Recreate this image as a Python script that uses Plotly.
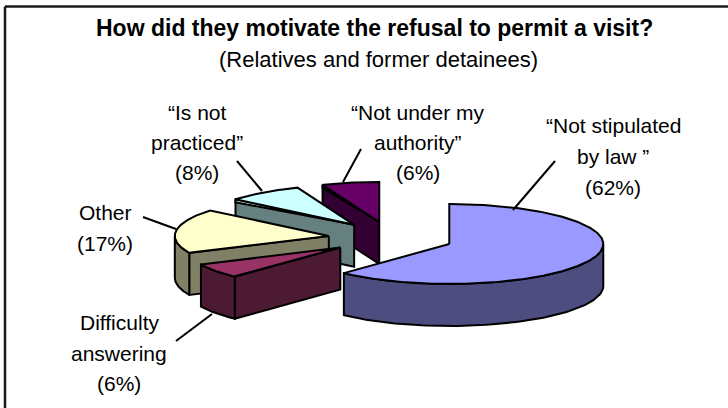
import math
import numpy as np
import plotly.graph_objects as go

# ---- data ----
categories = ["“Not stipulated<br>by law ”", "Difficulty<br>answering", "Other",
              "“Is not<br>practiced”", "“Not under my<br>authority”"]
shown_percent = [62, 6, 17, 8, 6]
slice_share = [62, 6, 18, 8, 6]   # proportions as drawn
top_colors = ["#9999FF", "#993366", "#FFFFCC", "#CCFFFF", "#660066"]
side_colors = ["#4D4D80", "#4D1A33", "#808066", "#668080", "#330033"]

title = "How did they motivate the refusal to permit a visit?"
subtitle = "(Relatives and former detainees)"

# ---- pie geometry (pixels) ----
CX, CY, RX, RY, DEPTH, EXPLODE = 391, 238, 154, 40, 42, 0.407
LIP = [0, 0, 0, 3, 3]
DRAW_ORDER = [4, 3, 2, 0, 1]
LABEL_CX = [613, 119, 105, 197, 418]
LABEL_Y = [[125, 156, 187], [322, 353, 383], [212, 243], [112, 142, 172], [112, 142, 172]]
LEADERS = [((555, 161), (513, 210)), ((176, 341), (212, 314)), ((143, 217), (176, 229)),
           ((237, 161), (262, 191)), ((361, 149), (343, 182))]
LINE = dict(color="black", width=2)
FONT = "Liberation Sans, Arial, sans-serif"

fig = go.Figure()


def poly(xs, ys, color):
    fig.add_trace(go.Scatter(x=list(xs), y=list(ys), mode="lines", fill="toself",
                             fillcolor=color, line=LINE, hoverinfo="skip", showlegend=False))


total = sum(slice_share)
edges = np.cumsum([0] + slice_share) / total * 360.0

for i in DRAW_ORDER:
    a0, a1 = edges[i], edges[i + 1]
    mid = math.radians((a0 + a1) / 2)
    tx = CX + EXPLODE * RX * math.sin(mid)
    ty = CY - EXPLODE * RY * math.cos(mid)
    rim = lambda deg: (tx + RX * np.sin(np.radians(deg)), ty - RY * np.cos(np.radians(deg)))

    # outer wall, front half only
    lo, hi = max(a0, 90), min(a1, 270)
    if hi > lo:
        th = np.linspace(lo, hi, 90)
        x, y = rim(th)
        poly(np.r_[x, x[::-1], x[0]], np.r_[y, y[::-1] + DEPTH, y[0]], side_colors[i])

    # radial wall facing the viewer
    for a, facing in ((a0, math.sin(math.radians(a0)) < -1e-6), (a1, math.sin(math.radians(a1)) > 1e-6)):
        if facing:
            x, y = rim(a)
            poly([tx, x, x, tx, tx], [ty, y, y + DEPTH, ty + DEPTH, ty], side_colors[i])

    # top face
    th = np.linspace(a0, a1, max(int(a1 - a0), 8) * 2)
    x, y = rim(th)
    if LIP[i]:
        poly([x[0], x[0], tx, x[0]], [y[0], y[0] + LIP[i], ty, y[0]], top_colors[i])
    poly(np.r_[tx, x, tx], np.r_[ty, y, ty], top_colors[i])

    # labels, one annotation per line
    lines = categories[i].split("<br>") + [f"({shown_percent[i]}%)"]
    for text, ly in zip(lines, LABEL_Y[i]):
        fig.add_annotation(x=LABEL_CX[i], y=ly, text=text, showarrow=False, xanchor="center",
                           yanchor="middle", font=dict(family=FONT, size=21, color="black"))

    (x0, y0), (x1, y1) = LEADERS[i]
    fig.add_shape(type="line", x0=x0, y0=y0, x1=x1, y1=y1, line=LINE, layer="above")

fig.add_annotation(x=374, y=28, text=f"<b>{title}</b>", showarrow=False,
                   font=dict(family=FONT, size=23, color="black"))
fig.add_annotation(x=378, y=59, text=subtitle, showarrow=False,
                   font=dict(family=FONT, size=22, color="black"))

frame = dict(color="#1a1a1a", width=2.5)
fig.add_shape(type="line", x0=5, y0=6.5, x1=728, y1=6.5, line=frame)
fig.add_shape(type="line", x0=5, y0=6.5, x1=5, y1=408, line=frame)

fig.update_layout(width=728, height=408, margin=dict(l=0, r=0, t=0, b=0),
                  paper_bgcolor="white", plot_bgcolor="white", showlegend=False,
                  xaxis=dict(range=[0, 728], visible=False, fixedrange=True),
                  yaxis=dict(range=[408, 0], visible=False, fixedrange=True))
fig.write_html("out.html", config=dict(displayModeBar=False),
               post_script="document.body.style.margin='0';document.body.style.overflow='hidden';")
